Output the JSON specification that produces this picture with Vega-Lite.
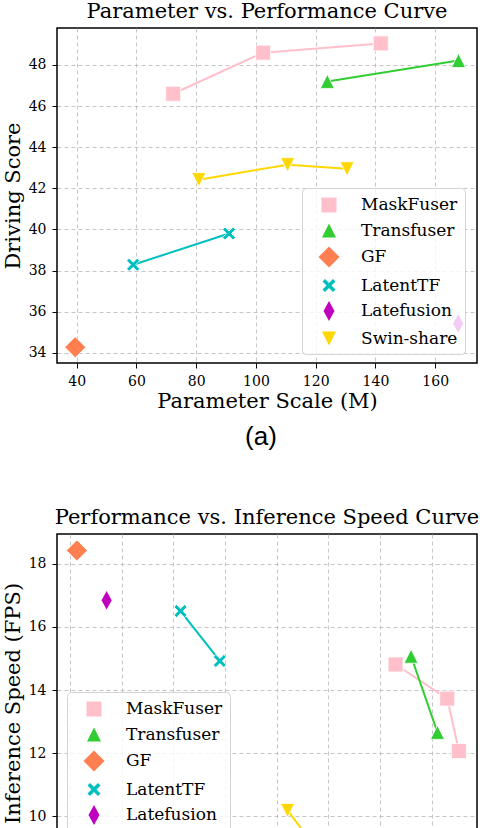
{
  "$schema": "https://vega.github.io/schema/vega-lite/v6.json",
  "background": "white",
  "padding": {"left": 1, "top": 0, "right": 3, "bottom": 0},
  "datasets": {
    "models": [
      {"model": "MaskFuser", "params": 72.3, "score": 46.6, "fps": 14.81},
      {"model": "MaskFuser", "params": 102.4, "score": 48.6, "fps": 13.73},
      {"model": "MaskFuser", "params": 141.8, "score": 49.05, "fps": 12.07},
      {"model": "Transfuser", "params": 123.9, "score": 47.2, "fps": 15.07},
      {"model": "Transfuser", "params": 167.8, "score": 48.22, "fps": 12.66},
      {"model": "GF", "params": 39.5, "score": 34.27, "fps": 18.42},
      {"model": "LatentTF", "params": 58.9, "score": 38.28, "fps": 16.5},
      {"model": "LatentTF", "params": 91.0, "score": 39.8, "fps": 14.92},
      {"model": "Latefusion", "params": 167.7, "score": 35.42, "fps": 16.84},
      {"model": "Swin-share", "params": 80.9, "score": 42.42, "fps": 10.19},
      {"model": "Swin-share", "params": 110.6, "score": 43.15, "fps": 9.4},
      {"model": "Swin-share", "params": 130.5, "score": 42.95, "fps": 8.72}
    ]
  },
  "config": {
    "font": "DejaVu Serif",
    "view": {"stroke": "#000000", "strokeWidth": 1.5},
    "axis": {
      "grid": true,
      "gridColor": "#b8b8b8",
      "gridDash": [4, 3],
      "gridOpacity": 0.8,
      "gridWidth": 1,
      "domain": false,
      "tickColor": "#000000",
      "tickSize": 5,
      "tickWidth": 1,
      "labelFont": "DejaVu Serif",
      "labelFontSize": 14,
      "labelColor": "#000000",
      "labelPadding": 6,
      "titleFont": "DejaVu Serif",
      "titleFontSize": 21,
      "titleFontWeight": "normal",
      "titleColor": "#000000"
    },
    "title": {"font": "DejaVu Serif", "fontSize": 21, "fontWeight": "normal", "anchor": "middle", "frame": "group", "color": "#000000"},
    "legend": {
      "title": null,
      "orient": "none",
      "fillColor": "rgba(255,255,255,0.8)",
      "strokeColor": "#d4d4d4",
      "cornerRadius": 4,
      "padding": 7,
      "symbolOffset": 10,
      "labelOffset": 22,
      "labelFont": "DejaVu Serif",
      "labelFontSize": 17,
      "labelColor": "#000000",
      "symbolSize": 400,
      "symbolStrokeWidth": 0,
      "rowPadding": 7.5
    }
  },
  "resolve": {
    "scale": {"color": "independent", "shape": "independent"},
    "legend": {"color": "independent", "shape": "independent"}
  },
  "spacing": 56,
  "vconcat": [
    {
      "title": {"text": "(a)", "orient": "bottom", "anchor": "middle", "dx": 204, "font": "Liberation Sans", "fontSize": 26, "offset": 12},
      "vconcat": [
        {
          "title": {"text": "Parameter vs. Performance Curve", "offset": 6},
          "width": 420,
          "height": 335,
          "data": {"name": "models"},
          "encoding": {
            "x": {"field": "params", "type": "quantitative", "scale": {"domain": [33.4, 174], "nice": false, "zero": false}, "axis": {"values": [40, 60, 80, 100, 120, 140, 160], "title": "Parameter Scale (M)", "titlePadding": 2}},
            "y": {"field": "score", "type": "quantitative", "scale": {"domain": [33.5, 49.8], "nice": false, "zero": false}, "axis": {"values": [34, 36, 38, 40, 42, 44, 46, 48], "title": "Driving Score", "titlePadding": 5}},
            "color": {"field": "model", "type": "nominal", "scale": {"domain": ["MaskFuser", "Transfuser", "GF", "LatentTF", "Latefusion", "Swin-share"], "range": ["#FFC0CB", "#32CD32", "#FF7F50", "#00BFBF", "#BF00BF", "#FFD700"]}, "legend": {"legendX": 245, "legendY": 160}}
          },
          "layer": [
            {"mark": {"type": "line", "strokeWidth": 2}, "encoding": {"order": {"field": "params", "type": "quantitative"}}},
            {"mark": {"type": "point", "filled": true, "opacity": 1, "size": 400, "stroke": "white", "strokeWidth": 0.8},
             "encoding": {"shape": {"field": "model", "type": "nominal", "scale": {"domain": ["MaskFuser", "Transfuser", "GF", "LatentTF", "Latefusion", "Swin-share"], "range": ["M-0.75,-0.75L0.75,-0.75L0.75,0.75L-0.75,0.75Z", "M0,-0.7L0.7,0.7L-0.7,0.7Z", "M0,-1.05L1.05,0L0,1.05L-1.05,0Z", "M-0.65,-0.4L-0.4,-0.65L0,-0.25L0.4,-0.65L0.65,-0.4L0.25,0L0.65,0.4L0.4,0.65L0,0.25L-0.4,0.65L-0.65,0.4L-0.25,0Z", "M0,-1L0.55,0L0,1L-0.55,0Z", "M-0.7,-0.7L0.7,-0.7L0,0.7Z"]}, "legend": {"legendX": 245, "legendY": 160}}}}
          ]
        }
      ]
    },
    {
      "title": {"text": "Performance vs. Inference Speed Curve", "offset": 6},
      "width": 420,
      "height": 338,
      "data": {"name": "models"},
      "encoding": {
        "x": {"field": "score", "type": "quantitative", "scale": {"domain": [33.5, 49.75], "nice": false, "zero": false}, "axis": {"values": [34, 36, 38, 40, 42, 44, 46, 48], "title": "Driving Score", "titlePadding": 2}},
        "y": {"field": "fps", "type": "quantitative", "scale": {"domain": [8.24, 18.94], "nice": false, "zero": false}, "axis": {"values": [10, 12, 14, 16, 18], "title": "Inference Speed (FPS)", "titlePadding": 5}},
        "color": {"field": "model", "type": "nominal", "scale": {"domain": ["MaskFuser", "Transfuser", "GF", "LatentTF", "Latefusion", "Swin-share"], "range": ["#FFC0CB", "#32CD32", "#FF7F50", "#00BFBF", "#BF00BF", "#FFD700"]}, "legend": {"legendX": 10, "legendY": 158}}
      },
      "layer": [
        {"mark": {"type": "line", "strokeWidth": 2}, "encoding": {"order": {"field": "params", "type": "quantitative"}}},
        {"mark": {"type": "point", "filled": true, "opacity": 1, "size": 400, "stroke": "white", "strokeWidth": 0.8},
         "encoding": {"shape": {"field": "model", "type": "nominal", "scale": {"domain": ["MaskFuser", "Transfuser", "GF", "LatentTF", "Latefusion", "Swin-share"], "range": ["M-0.75,-0.75L0.75,-0.75L0.75,0.75L-0.75,0.75Z", "M0,-0.7L0.7,0.7L-0.7,0.7Z", "M0,-1.05L1.05,0L0,1.05L-1.05,0Z", "M-0.65,-0.4L-0.4,-0.65L0,-0.25L0.4,-0.65L0.65,-0.4L0.25,0L0.65,0.4L0.4,0.65L0,0.25L-0.4,0.65L-0.65,0.4L-0.25,0Z", "M0,-1L0.55,0L0,1L-0.55,0Z", "M-0.7,-0.7L0.7,-0.7L0,0.7Z"]}, "legend": {"legendX": 10, "legendY": 158}}}}
      ]
    }
  ]
}
